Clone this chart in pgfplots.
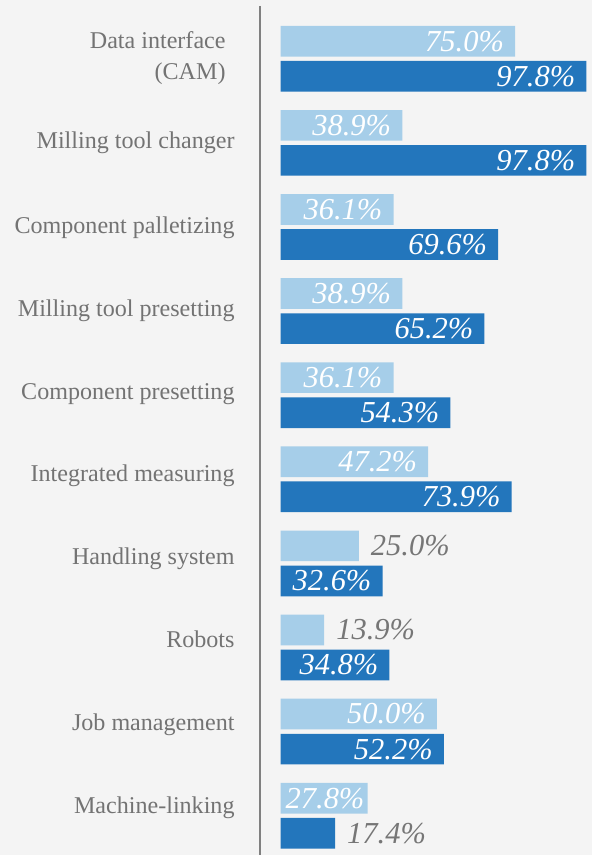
\documentclass[border=0pt]{standalone}
\usepackage{pgfplots}
\pgfplotsset{compat=1.18}
\usepackage{fontspec}
\setmainfont{Liberation Serif}

\definecolor{bg}{HTML}{F4F4F4}
\definecolor{lightbar}{HTML}{A6CEE9}
\definecolor{darkbar}{HTML}{2376BC}
\definecolor{labelgray}{HTML}{737373}
\definecolor{valgray}{HTML}{767676}
\definecolor{axisgray}{HTML}{808080}

\pgfplotsset{
  vallab/.style={draw=none, mark=none, point meta=x,
    nodes near coords={\pgfmathprintnumber[fixed,fixed zerofill,precision=1]{\pgfplotspointmeta}\%},
    every node near coord/.append style={font=\fontsize{30.5}{30.5}\selectfont\itshape, inner sep=0pt}},
  inlab/.style={vallab, every node near coord/.append style={anchor=east, text=white, xshift=-11pt}},
  outlab/.style={vallab, every node near coord/.append style={anchor=west, text=valgray, xshift=12pt}},
  hbar/.style={xbar, bar width=30.7, bar shift=0pt, draw=none},
}

\begin{document}
\begin{tikzpicture}
\fill[bg] (0,0) rectangle (593pt,856pt);
\begin{axis}[
  at={(260pt,0pt)}, anchor=south west,
  scale only axis, width=333pt, height=850pt,
  xmin=-6.711, xmax=99.71, ymin=6, ymax=856, y dir=reverse,
  axis x line=none, axis y line=left,
  y axis line style={-, draw=axisgray, line width=2pt},
  % label baselines (last line)
  ytick={80,148.3,233.3,316.7,400,482.5,565,648.3,731,814},
  yticklabels={{Data interface\hspace*{9pt}\\(CAM)\hspace*{9pt}},
    Milling tool changer, Component palletizing, Milling tool presetting,
    Component presetting, Integrated measuring, Handling system, Robots,
    Job management, Machine-linking},
  major tick length=0pt,
  yticklabel style={font=\fontsize{24.1}{31.7}\selectfont, text=labelgray,
    align=right, inner sep=0pt, anchor=base east, xshift=-25pt},
  clip=false,
  /pgf/number format/assume math mode=true,
]
% light series
\addplot[hbar, fill=lightbar] coordinates {
  (75.0,41.3) (38.9,125.5) (36.1,209.7) (38.9,293.9) (36.1,378.1)
  (47.2,462.3) (25.0,546.5) (13.9,630.7) (50.0,714.9) (27.8,799.1)};
% dark series
\addplot[hbar, fill=darkbar] coordinates {
  (97.8,76.4) (97.8,160.6) (69.6,244.8) (65.2,329.0) (54.3,413.2)
  (73.9,497.4) (32.6,581.6) (34.8,665.8) (52.2,750.0) (17.4,834.2)};
% value labels
\addplot[inlab] coordinates {
  (75.0,41.3) (38.9,125.5) (36.1,209.7) (38.9,293.9) (36.1,378.1)
  (47.2,462.3) (50.0,714.9)};
\addplot[inlab, every node near coord/.append style={xshift=8pt}] coordinates {(27.8,799.1)};
\addplot[outlab] coordinates {(25.0,546.5) (13.9,630.7)};
\addplot[inlab] coordinates {
  (97.8,76.4) (97.8,160.6) (69.6,244.8) (65.2,329.0) (54.3,413.2)
  (73.9,497.4) (32.6,581.6) (34.8,665.8) (52.2,750.0)};
\addplot[outlab] coordinates {(17.4,834.2)};
\end{axis}
\end{tikzpicture}
\end{document}
